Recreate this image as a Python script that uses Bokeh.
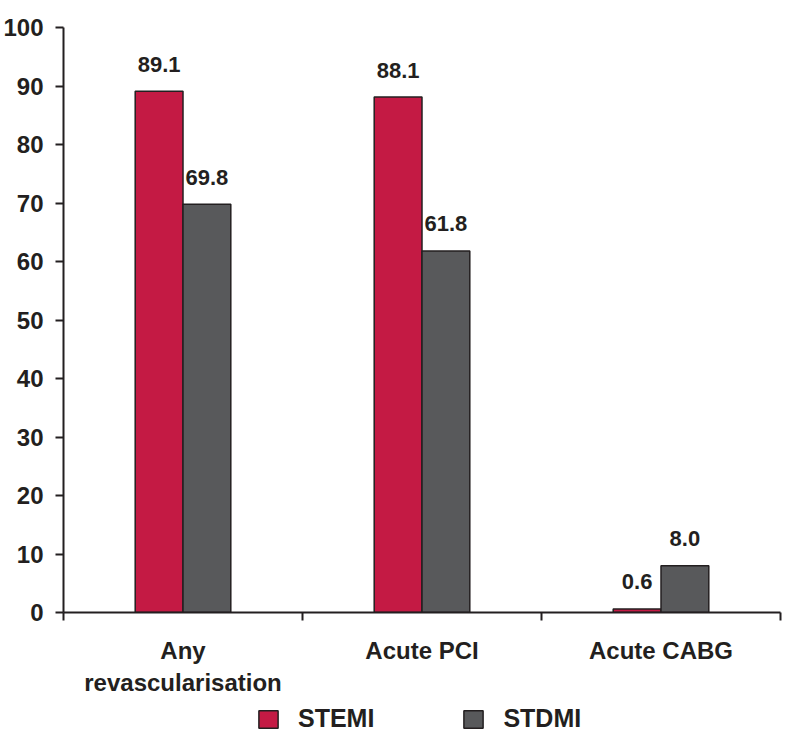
from bokeh.plotting import figure
from bokeh.layouts import column
from bokeh.models import Range1d, FixedTicker, Legend, LegendItem, ColumnDataSource
from bokeh.core.properties import value
from bokeh.embed import file_html
from bokeh.resources import INLINE

categories = ["Any\nrevascularisation", "Acute PCI", "Acute CABG"]
stemi = [89.1, 88.1, 0.6]
stdmi = [69.8, 61.8, 8.0]
y_ticks = [0, 10, 20, 30, 40, 50, 60, 70, 80, 90, 100]
series_names = ["STEMI", "STDMI"]

FONT = "Liberation Sans"
RED = "#C41A44"
GREY = "#58595B"
EDGE = "#231F20"

centers = [i + 0.5 for i in range(len(categories))]
bw = 0.2

src_a = ColumnDataSource(dict(x=[c - bw / 2 for c in centers], top=stemi,
                              lab=["{:.1f}".format(v) for v in stemi]))
src_b = ColumnDataSource(dict(x=[c + bw / 2 for c in centers], top=stdmi,
                              lab=["{:.1f}".format(v) for v in stdmi]))

p = figure(width=791, height=700, output_backend="svg", toolbar_location=None,
           x_range=Range1d(0, len(categories)), y_range=Range1d(0, 100),
           min_border_left=63, min_border_right=11, min_border_top=27, min_border_bottom=88)
p.outline_line_color = None
p.xgrid.grid_line_color = None
p.ygrid.grid_line_color = None
p.background_fill_color = "white"
p.border_fill_color = "white"

p.vbar(x="x", top="top", width=bw, source=src_a, fill_color=RED, line_color=EDGE, line_width=1.5)
p.vbar(x="x", top="top", width=bw, source=src_b, fill_color=GREY, line_color=EDGE, line_width=1.5)

for src in (src_a, src_b):
    p.text(x="x", y="top", text="lab", source=src, text_align="center", text_baseline="alphabetic",
           y_offset=-27, text_font=value(FONT), text_font_style="bold", text_font_size="22px",
           text_color=EDGE)

# y axis
ya = p.yaxis[0]
ya.ticker = FixedTicker(ticks=y_ticks)
ya.axis_line_color = EDGE
ya.axis_line_width = 2
ya.major_tick_line_color = EDGE
ya.major_tick_line_width = 2
ya.major_tick_out = 8
ya.major_tick_in = 0
ya.minor_tick_line_color = None
ya.major_label_text_font = FONT
ya.major_label_text_font_style = "bold"
ya.major_label_text_font_size = "24px"
ya.major_label_text_color = EDGE
ya.major_label_standoff = 12

# x axis
xa = p.xaxis[0]
xa.ticker = FixedTicker(ticks=centers, minor_ticks=[0, 1, 2, 3])
xa.major_label_overrides = {c: lab for c, lab in zip(centers, categories)}
xa.axis_line_color = EDGE
xa.axis_line_width = 2
xa.major_tick_line_color = None
xa.major_tick_out = 0
xa.major_tick_in = 0
xa.minor_tick_line_color = EDGE
xa.minor_tick_line_width = 2
xa.minor_tick_out = 8
xa.minor_tick_in = 0
xa.major_label_text_font = FONT
xa.major_label_text_font_style = "bold"
xa.major_label_text_font_size = "24px"
xa.major_label_text_color = EDGE
xa.major_label_standoff = 16

# legend strip below (its bars are muted to invisibility and lie outside its range; only the legend shows)
lf = figure(width=791, height=46, output_backend="svg", toolbar_location=None,
            x_range=Range1d(4, 5), y_range=Range1d(-100, -99),
            x_axis_location=None, y_axis_location=None, min_border=0)
lf.outline_line_color = None
lf.xgrid.grid_line_color = None
lf.ygrid.grid_line_color = None
la = lf.vbar(x=centers, top=stemi, width=bw, fill_color=RED, line_color=EDGE, line_width=1.5,
             muted_alpha=0)
lb = lf.vbar(x=centers, top=stdmi, width=bw, fill_color=GREY, line_color=EDGE, line_width=1.5,
             muted_alpha=0)
la.muted = True
lb.muted = True

legend = Legend(items=[LegendItem(label=series_names[0], renderers=[la]),
                       LegendItem(label=series_names[1], renderers=[lb])],
                orientation="horizontal", location=(193, 13))
legend.label_text_font = FONT
legend.label_text_font_style = "bold"
legend.label_text_font_size = "25px"
legend.label_text_color = EDGE
legend.glyph_width = 24
legend.glyph_height = 22
legend.label_standoff = 18
legend.spacing = 87
legend.border_line_color = None
legend.background_fill_alpha = 0
legend.padding = 0
legend.margin = 0
lf.add_layout(legend, "center")

layout = column(p, lf, spacing=0)
open("out.html", "w").write(file_html(layout, INLINE))
